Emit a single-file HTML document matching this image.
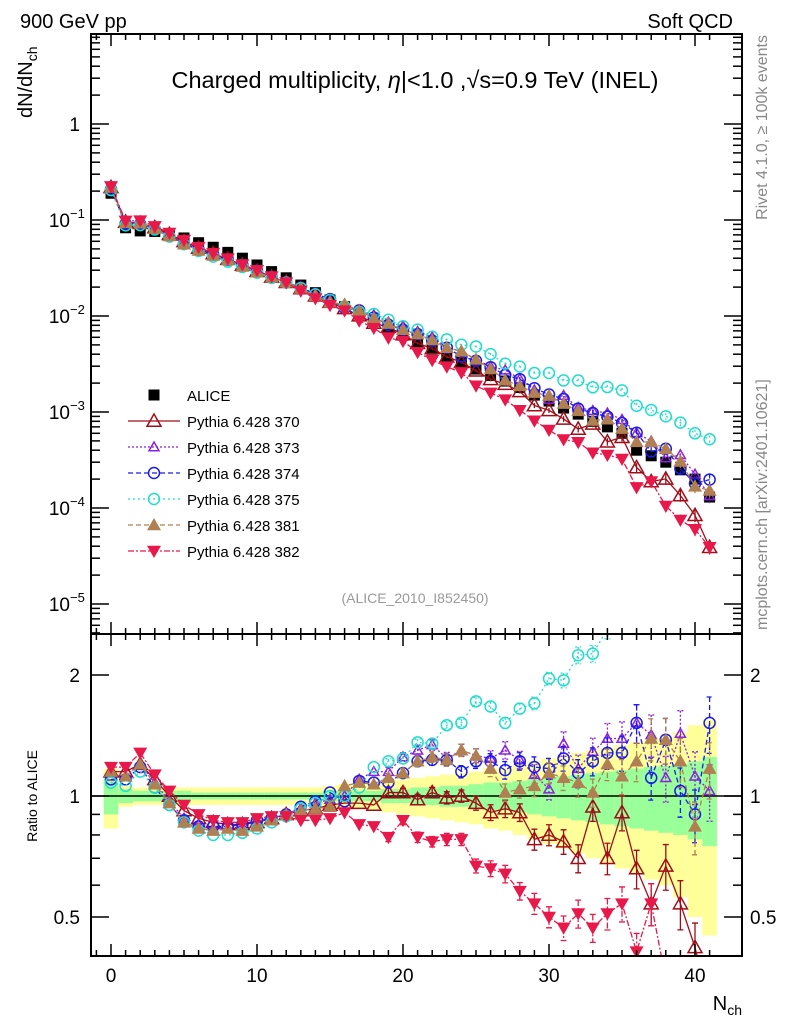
<!DOCTYPE html>
<html><head><meta charset="utf-8"><style>
body{margin:0;background:#fff;}
svg text{font-family:"Liberation Sans","DejaVu Sans",sans-serif;}
</style></head><body>
<svg id="c" width="786" height="1024" xmlns="http://www.w3.org/2000/svg">
<defs>
<clipPath id="cm"><rect x="91" y="34" width="651" height="600"/></clipPath>
<clipPath id="cr"><rect x="91" y="634" width="651" height="322"/></clipPath>
</defs>
<g id="bands" clip-path="url(#cr)"></g>
<g id="mainMarks" clip-path="url(#cm)"></g>
<g id="ratioMarks" clip-path="url(#cr)"></g>
<g id="axes"></g>
<text x="20" y="28" font-size="20">900 GeV pp</text>
<text x="733" y="28" font-size="20" text-anchor="end">Soft QCD</text>
<text x="415" y="88" font-size="23.5" text-anchor="middle">Charged multiplicity, <tspan font-style="italic">η</tspan>|&lt;1.0 ,√s=0.9 TeV (INEL)</text>
<text x="415" y="603" font-size="14" fill="#999" text-anchor="middle">(ALICE_2010_I852450)</text>
<text transform="translate(32,118) rotate(-90)" font-size="20">dN/dN<tspan font-size="14" dy="5">ch</tspan></text>
<text transform="translate(37,796) rotate(-90)" font-size="14" text-anchor="middle">Ratio to ALICE</text>
<text x="742" y="1010" font-size="20" text-anchor="end">N<tspan font-size="14" dy="5">ch</tspan></text>
<text transform="translate(767,35) rotate(-90)" font-size="16" fill="#888" text-anchor="end">Rivet 4.1.0, ≥ 100k events</text>
<text transform="translate(767,630) rotate(-90)" font-size="16" fill="#888">mcplots.cern.ch [arXiv:2401.10621]</text>
<g id="legend"></g>
</svg>
<script>
const nch=[0,1,2,3,4,5,6,7,8,9,10,11,12,13,14,15,16,17,18,19,20,21,22,23,24,25,26,27,28,29,30,31,32,33,34,35,36,37,38,39,40,41];
const alice=[0.19,0.083,0.077,0.076,0.071,0.065,0.058,0.052,0.046,0.040,0.034,0.029,0.025,0.021,0.0175,0.0147,0.0125,0.0105,0.0089,0.0075,0.0063,0.0053,0.0045,0.0038,0.0033,0.0028,0.0024,0.0021,0.0018,0.0015,0.0013,0.0011,0.00095,0.0008,0.0007,0.0006,0.0004,0.00035,0.0003,0.00025,0.0002,0.00013];
const r370=[1.15,1.15,1.2,1.1,1.0,0.92,0.88,0.86,0.85,0.85,0.86,0.88,0.9,0.92,0.93,0.95,0.96,0.96,0.95,1.02,1.02,0.98,1.02,0.99,1.0,0.96,0.91,0.93,0.91,0.78,0.8,0.77,0.7,0.94,0.7,0.91,0.66,0.54,0.67,0.54,0.42,0.3];
const r373=[1.12,1.12,1.2,1.08,0.97,0.88,0.85,0.83,0.83,0.84,0.86,0.88,0.9,0.93,0.96,0.98,1.0,1.1,1.15,1.15,1.25,1.3,1.34,1.24,1.3,1.26,1.24,1.3,1.23,1.13,1.04,1.35,1.17,1.29,1.39,1.39,1.52,1.42,1.11,1.43,1.12,1.03];
const r374=[1.1,1.1,1.18,1.05,0.95,0.87,0.84,0.84,0.84,0.85,0.87,0.88,0.9,0.94,0.97,1.02,0.97,1.09,1.08,1.08,1.14,1.22,1.23,1.23,1.15,1.22,1.22,1.16,1.22,1.18,1.17,1.24,1.14,1.22,1.28,1.28,1.52,1.11,1.38,1.03,0.9,1.52];
const r375=[1.08,1.06,1.15,1.05,0.95,0.86,0.82,0.8,0.8,0.81,0.83,0.86,0.89,0.93,0.96,1.0,1.0,1.05,1.18,1.22,1.24,1.36,1.35,1.5,1.52,1.72,1.67,1.52,1.65,1.7,1.96,1.94,2.24,2.26,2.6,2.8,2.9,3.0,3.0,3.1,3.0,4.0];
const r381=[1.15,1.12,1.2,1.07,0.96,0.86,0.83,0.82,0.83,0.82,0.84,0.87,0.9,0.92,0.93,0.94,1.06,1.08,1.07,1.11,1.14,1.22,1.25,1.23,1.3,1.26,1.17,1.02,1.04,1.06,1.14,1.11,1.08,1.02,1.2,1.12,1.22,1.39,1.38,1.22,0.84,1.17];
const r382=[1.18,1.18,1.28,1.13,1.03,0.95,0.9,0.87,0.86,0.86,0.88,0.89,0.89,0.87,0.87,0.88,0.91,0.85,0.84,0.79,0.87,0.79,0.77,0.78,0.78,0.67,0.66,0.64,0.58,0.54,0.5,0.47,0.51,0.47,0.51,0.54,0.41,0.54,0.35,0.3,0.3,0.3];
const errMC=[0.01,0.01,0.01,0.01,0.01,0.01,0.01,0.01,0.01,0.01,0.01,0.01,0.01,0.01,0.015,0.015,0.02,0.02,0.02,0.025,0.025,0.03,0.03,0.035,0.035,0.04,0.045,0.05,0.05,0.06,0.06,0.07,0.08,0.08,0.09,0.1,0.11,0.12,0.13,0.14,0.15,0.16];
const errTot=[0.17,0.06,0.05,0.05,0.05,0.05,0.05,0.05,0.05,0.05,0.05,0.05,0.05,0.05,0.05,0.06,0.07,0.07,0.08,0.09,0.1,0.11,0.12,0.13,0.14,0.15,0.17,0.18,0.2,0.22,0.24,0.26,0.28,0.3,0.32,0.34,0.36,0.38,0.4,0.44,0.5,0.55];
const errStat=[0.1,0.04,0.03,0.03,0.03,0.03,0.02,0.02,0.02,0.02,0.02,0.02,0.02,0.02,0.02,0.03,0.03,0.03,0.03,0.04,0.04,0.05,0.05,0.06,0.06,0.07,0.08,0.08,0.09,0.1,0.11,0.12,0.13,0.14,0.15,0.16,0.17,0.18,0.19,0.2,0.22,0.25];
const mainTicks=["1","10","10","10","10","10"];
const mainExp=["","−1","−2","−3","−4","−5"];
const xTickLabels=["0","10","20","30","40"];
const ratioTicks=["2","1","0.5"];

const NS='http://www.w3.org/2000/svg';
const X=n=>111+14.6*n;
const Ym=v=>124-96*Math.log10(v);
const Yr=r=>796-121*Math.log2(r);
function mk(tag,attrs,parent){const e=document.createElementNS(NS,tag);for(const k in attrs)e.setAttribute(k,attrs[k]);parent.appendChild(e);return e;}
const axes=document.getElementById('axes'),bands=document.getElementById('bands'),mm=document.getElementById('mainMarks'),rm=document.getElementById('ratioMarks'),leg=document.getElementById('legend');

nch.forEach((n,i)=>{
  const y=mk('rect',{x:X(n-0.5),y:Yr(1+errTot[i]),width:14.6,height:Yr(1-errTot[i])-Yr(1+errTot[i]),fill:'#ffff99'},bands);
  
  
  const g=mk('rect',{x:X(n-0.5),y:Yr(1+errStat[i]),width:14.6,height:Yr(1-errStat[i])-Yr(1+errStat[i]),fill:'#99ff99'},bands);
  
  
});
const one=mk('line',{x1:91,x2:742,y1:Yr(1),y2:Yr(1),stroke:'#000','stroke-width':1.5},bands);



const series=[
 {id:'370',r:r370,c:'#a00d18',dash:'',m:'tri',fill:false,s:7},
 {id:'373',r:r373,c:'#8b22dd',dash:'2,2',m:'tri',fill:false,s:5},
 {id:'374',r:r374,c:'#1a1aee',dash:'5,3',m:'circ',fill:false,s:5.5},
 {id:'375',r:r375,c:'#22ddcc',dash:'2,3',m:'circ',fill:false,s:5.5},
 {id:'381',r:r381,c:'#b07f52',dash:'5,3',m:'tri',fill:true,s:7},
 {id:'382',r:r382,c:'#e8194a',dash:'6,2,2,2',m:'dtri',fill:true,s:7}
];
function marker(kind,x,y,s,c,fill,parent){
  let e;
  if(kind==='tri')e=mk('polygon',{points:`${x},${y-s} ${x-s},${y+s*0.75} ${x+s},${y+s*0.75}`},parent);
  else if(kind==='dtri')e=mk('polygon',{points:`${x},${y+s} ${x-s},${y-s*0.75} ${x+s},${y-s*0.75}`},parent);
  else if(kind==='sq')e=mk('rect',{x:x-s,y:y-s,width:2*s,height:2*s},parent);
  else e=mk('circle',{cx:x,cy:y,r:s},parent);
  e.setAttribute('fill',fill?c:'none');e.setAttribute('stroke',c);e.setAttribute('stroke-width',fill?0:1.5);
  return e;
}
nch.forEach((n,i)=>{const e=marker('sq',X(n),Ym(alice[i]),5.5,'#000',true,mm);
  
  });
series.forEach(S=>{
  const ptsM=nch.map((n,i)=>`${X(n)},${Ym(alice[i]*S.r[i])}`).join(' ');
  const ptsR=nch.map((n,i)=>`${X(n)},${Yr(S.r[i])}`).join(' ');
  const lm=mk('polyline',{points:ptsM,fill:'none',stroke:S.c,'stroke-width':1.3,'stroke-dasharray':S.dash},mm);
  
  
  const lr=mk('polyline',{points:ptsR,fill:'none',stroke:S.c,'stroke-width':1.3,'stroke-dasharray':S.dash},rm);
  
  
  nch.forEach((n,i)=>{
    const v=S.r[i],e=errMC[i]*v*(S.id==='375'?0.6:1);
    if(errMC[i]>0.02){
      const eb=mk('path',{d:`M${X(n)},${Yr(v+e)}V${Yr(Math.max(v-e,0.01))}M${X(n)-3},${Yr(v+e)}h6M${X(n)-3},${Yr(Math.max(v-e,0.01))}h6`,stroke:S.c,'stroke-width':1.3,'stroke-dasharray':S.dash,fill:'none'},rm);
      
      
      const a2=alice[i];
      const em=mk('path',{d:`M${X(n)},${Ym(a2*(v+e))}V${Ym(a2*Math.max(v-e,0.01))}`,stroke:S.c,'stroke-width':1.3,'stroke-dasharray':S.dash,fill:'none'},mm);
      
      
    }
    const a=marker(S.m,X(n),Ym(alice[i]*S.r[i]),S.s,S.c,S.fill,mm);
    
    
    const b=marker(S.m,X(n),Yr(S.r[i]),S.s,S.c,S.fill,rm);
    
    
  });
});
const legNames=['ALICE','Pythia 6.428 370','Pythia 6.428 373','Pythia 6.428 374','Pythia 6.428 375','Pythia 6.428 381','Pythia 6.428 382'];
legNames.forEach((t,i)=>{
  const y=395+26*i;
  if(i===0){const e=marker('sq',154,y,5.5,'#000',true,leg);}
  else{const S=series[i-1];
    const l=mk('line',{x1:128,x2:180,y1:y,y2:y,stroke:S.c,'stroke-width':1.3,'stroke-dasharray':S.dash},leg);
    
    
    const e=marker(S.m,154,y,S.s,S.c,S.fill,leg);
    
    }
  const tx=mk('text',{x:187,y:y+6,'font-size':15},leg);tx.textContent=t;
  
  
});
[[34,634],[634,956]].forEach((p,k)=>{
  const f=mk('rect',{x:91,y:p[0],width:651,height:p[1]-p[0],fill:'none',stroke:'#000','stroke-width':2},axes);
  
  
  for(let n=-1;n<=41;n++){const L=n%10===0?12:6;
    mk('line',{x1:X(n),x2:X(n),y1:p[1],y2:p[1]-L,stroke:'#000','stroke-width':1.5},axes);
    mk('line',{x1:X(n),x2:X(n),y1:p[0],y2:p[0]+L,stroke:'#000','stroke-width':1.5},axes);}
});
for(let d=-6;d<=0;d++){for(let m=1;m<=9;m++){const v=m*Math.pow(10,d);const y=Ym(v);if(y<34||y>634)continue;const L=m===1?18:9;
  mk('line',{x1:91,x2:91+L,y1:y,y2:y,stroke:'#000','stroke-width':1.5},axes);
  mk('line',{x1:742,x2:742-L,y1:y,y2:y,stroke:'#000','stroke-width':1.5},axes);}}
mainTicks.forEach((t,i)=>{const y=Ym(Math.pow(10,-i));
  const tx=mk('text',{x:i?70:80,y:y+7,'font-size':19,'text-anchor':'end'},axes);tx.textContent=t;
  
  
  if(i){const ex=mk('text',{x:70,y:y-2,'font-size':13},axes);ex.textContent=mainExp[i];
    
    }});
[0.4,0.5,0.6,0.7,0.8,0.9,1,2].forEach(v=>{const y=Yr(v);const L=(v===1||v===2||v===0.5)?18:9;
  mk('line',{x1:91,x2:91+L,y1:y,y2:y,stroke:'#000','stroke-width':1.5},axes);
  mk('line',{x1:742,x2:742-L,y1:y,y2:y,stroke:'#000','stroke-width':1.5},axes);});
ratioTicks.forEach(t=>{const y=Yr(parseFloat(t));
  const a=mk('text',{x:80,y:y+7,'font-size':19,'text-anchor':'end'},axes);a.textContent=t;
  
  
  const b=mk('text',{x:750,y:y+7,'font-size':19},axes);b.textContent=t;
  
  });
xTickLabels.forEach(t=>{const tx=mk('text',{x:X(parseFloat(t)),y:982,'font-size':19,'text-anchor':'middle'},axes);tx.textContent=t;
  
  });
</script>
</body></html>
